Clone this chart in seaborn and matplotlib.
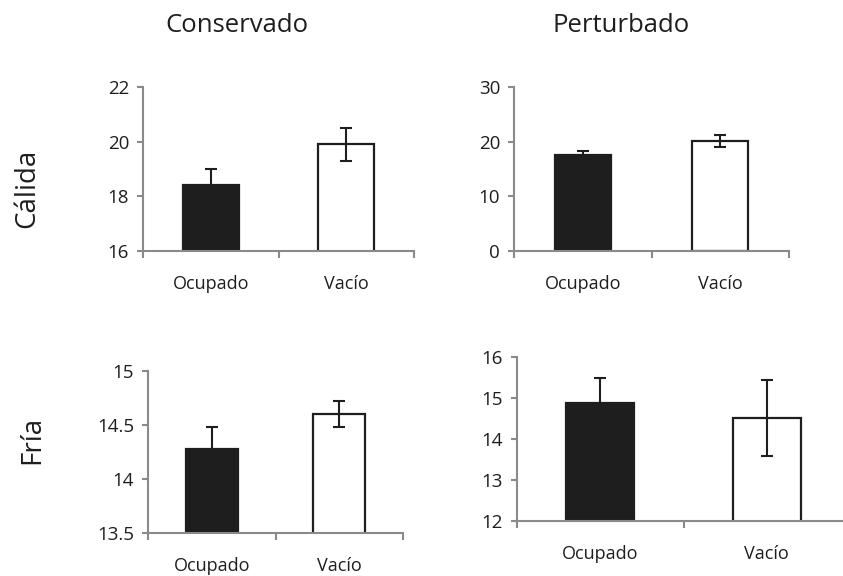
import matplotlib
matplotlib.use("Agg")
import matplotlib.pyplot as plt
import seaborn as sns
from matplotlib.ticker import FixedLocator

sns.set_theme(style="white")
plt.rcParams["font.family"] = ["Open Sans", "DejaVu Sans"]

categories = ["Ocupado", "Vacío"]

conservado_calida = [18.4, 19.9]
conservado_calida_err = [0.6, 0.6]
perturbado_calida = [17.6, 20.2]
perturbado_calida_err = [0.7, 1.1]
conservado_fria = [14.28, 14.6]
conservado_fria_err = [0.2, 0.12]
perturbado_fria = [14.88, 14.52]
perturbado_fria_err = [0.6, 0.93]

calida_con_ticks = [16, 18, 20, 22]
calida_per_ticks = [0, 10, 20, 30]
fria_con_ticks = [13.5, 14, 14.5, 15]
fria_per_ticks = [12, 13, 14, 15, 16]

W, H = 843, 576
fig = plt.figure(figsize=(W / 100, H / 100), dpi=100)


def box(left, right, top, bottom):
    return [left / W, 1 - bottom / H, (right - left) / W, (bottom - top) / H]


panels = [
    (box(143, 414, 87, 251), conservado_calida, conservado_calida_err, calida_con_ticks),
    (box(514, 789, 87, 251), perturbado_calida, perturbado_calida_err, calida_per_ticks),
    (box(148, 403, 371, 533), conservado_fria, conservado_fria_err, fria_con_ticks),
    (box(517, 850, 357, 521), perturbado_fria, perturbado_fria_err, fria_per_ticks),
]

axis_grey = "#8a8a8a"
ink = "#1e1e1e"

for rect, vals, errs, yticks in panels:
    ax = fig.add_axes(rect)
    sns.barplot(x=categories, y=vals, hue=categories, palette=[ink, "white"],
                edgecolor=ink, linewidth=1.6, width=0.41, errorbar=None,
                legend=False, ax=ax)
    ax.errorbar(x=[0, 1], y=vals, yerr=errs, fmt="none", ecolor=ink,
                elinewidth=1.5, capsize=4, capthick=1.5, zorder=5)
    ax.set_xlim(-0.5, 1.5)
    ax.set_ylim(yticks[0], yticks[-1])
    ax.set_yticks(yticks)
    ax.set_yticklabels([f"{t:g}" for t in yticks])
    ax.xaxis.set_minor_locator(FixedLocator([-0.5, 0.5, 1.5]))
    ax.tick_params(axis="x", which="major", length=0, pad=17, labelsize=13,
                   labelcolor=ink)
    ax.tick_params(axis="x", which="minor", length=5, width=1.5, color=axis_grey,
                   direction="out", bottom=True)
    ax.tick_params(axis="y", which="major", length=4, width=1.5, color=axis_grey,
                   direction="out", left=True, labelsize=13.5, labelcolor=ink, pad=6)
    for side in ("top", "right"):
        ax.spines[side].set_visible(False)
    for side in ("left", "bottom"):
        ax.spines[side].set_color(axis_grey)
        ax.spines[side].set_linewidth(1.5)
    ax.set_xlabel("")
    ax.set_ylabel("")
    ax.patch.set_alpha(0)

fig.text(237 / W, 1 - 25 / H, "Conservado", ha="center", va="center", fontsize=18.5,
         color=ink)
fig.text(621 / W, 1 - 25 / H, "Perturbado", ha="center", va="center", fontsize=18.5,
         color=ink)
fig.text(27 / W, 1 - 188 / H, "Cálida", ha="center", va="center", rotation=90,
         fontsize=20, color=ink)
fig.text(32 / W, 1 - 440 / H, "Fría", ha="center", va="center", rotation=90,
         fontsize=20, color=ink)

fig.savefig("out.png", dpi=100)
